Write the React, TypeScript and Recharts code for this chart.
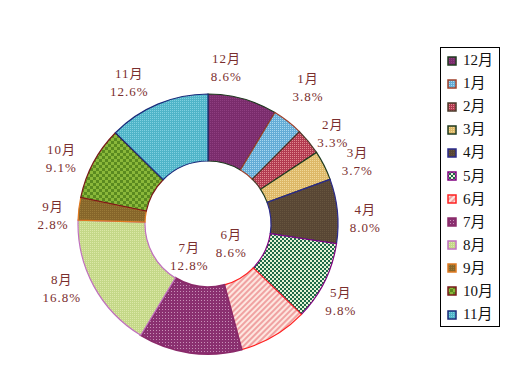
import { PieChart, Pie, Cell, Legend } from "recharts";

const months = ["12月", "1月", "2月", "3月", "4月", "5月", "6月", "7月", "8月", "9月", "10月", "11月"];
const shares = [8.6, 3.8, 3.3, 3.7, 8.0, 9.8, 8.6, 12.8, 16.8, 2.8, 9.1, 12.6];

const data = months.map((name, i) => ({ name, value: shares[i] }));

// fill pattern ids + border colour per slice
const fills = ["p12", "p1", "p2", "p3", "p4", "p5", "p6", "p7", "p8", "p9", "p10", "p11"];
const strokes = ["#1f3a1f", "#a0402a", "#4a3a2a", "#1f3a1f", "#2a2a8a", "#800080", "#ff2020", "#8a2a6a", "#c070c0", "#e07a20", "#7a1a1a", "#1a2a7a"];

// hand tweaks for data labels (the original was dragged around in Excel)
const labelNudge: [number, number][] = [
  [-23, -7], [5, -14], [5, 8], [11, 7], [3, 10], [-6, 9],
  [3, -15], [-13, -7], [-10, -10], [-1, 10], [-10, 8], [-19, 1],
];
const insideLabels = [6, 7];

const CX = 208;
const CY = 224;
const RAD = Math.PI / 180;
const labelFont = "'Liberation Serif', 'Noto Sans CJK SC', serif";

const renderLabel = (props: any) => {
  const { midAngle, index } = props;
  const r = insideLabels.includes(index) ? 40 : 155;
  const x = CX + r * Math.cos(-midAngle * RAD) + labelNudge[index][0];
  const y = CY + r * Math.sin(-midAngle * RAD) + labelNudge[index][1];
  return (
    <text x={x} y={y} textAnchor="middle" fill="#7a2e2e" fontSize={13} fontFamily={labelFont} letterSpacing={1}>
      <tspan x={x} dy={-4.5}>{months[index]}</tspan>
      <tspan x={x} dy={18}>{shares[index].toFixed(1)}%</tspan>
    </text>
  );
};

const LegendBox = () => (
  <div
    style={{
      border: "1.5px solid #000",
      width: 60,
      height: 280,
      boxSizing: "border-box",
      padding: "1px 0 0 6px",
      background: "#fff",
    }}
  >
    {months.map((m, i) => (
      <div key={m} style={{ display: "flex", alignItems: "center", height: 23.1 }}>
        <svg width={10} height={10} style={{ marginRight: 6 }}>
          <rect x={1} y={1} width={8} height={8} fill={`url(#${fills[i]})`} stroke={strokes[i]} strokeWidth={1.5} />
        </svg>
        <span style={{ fontFamily: labelFont, fontSize: 15, color: "#111", lineHeight: "15px" }}>{m}</span>
      </div>
    ))}
  </div>
);

export default function App() {
  return (
    <div style={{ position: "fixed", left: 0, top: 0, width: 530, height: 365, background: "#fff" }}>
      <PieChart width={530} height={365} margin={{ top: 0, right: 0, bottom: 0, left: 0 }}>
        <defs>
          <pattern id="p12" width="2" height="2" patternUnits="userSpaceOnUse">
            <rect width="2" height="2" fill="#7a2c6c" />
            <rect width="1" height="1" fill="#8e3e80" />
          </pattern>
          <pattern id="p1" width="2" height="2" patternUnits="userSpaceOnUse">
            <rect width="2" height="2" fill="#64acd6" />
            <rect width="1" height="1" fill="#a8d8f0" />
          </pattern>
          <pattern id="p2" width="2" height="2" patternUnits="userSpaceOnUse">
            <rect width="2" height="2" fill="#b23a50" />
            <rect width="1" height="1" fill="#e08a90" />
          </pattern>
          <pattern id="p3" width="2" height="2" patternUnits="userSpaceOnUse">
            <rect width="2" height="2" fill="#ddb868" />
            <rect width="1" height="1" fill="#f0d898" />
          </pattern>
          <pattern id="p4" width="2" height="2" patternUnits="userSpaceOnUse">
            <rect width="2" height="2" fill="#584634" />
            <rect width="1" height="1" fill="#66543e" />
          </pattern>
          <pattern id="p5" width="4" height="4" patternUnits="userSpaceOnUse">
            <rect width="4" height="4" fill="#e6f4d6" />
            <rect width="2" height="2" fill="#1e6a48" />
            <rect x="2" y="2" width="2" height="2" fill="#1e6a48" />
          </pattern>
          <pattern id="p6" width="4" height="4" patternUnits="userSpaceOnUse" patternTransform="rotate(45)">
            <rect width="4" height="4" fill="#fde6e0" />
            <rect width="2" height="4" fill="#f0a2a2" />
          </pattern>
          <pattern id="p7" width="3" height="3" patternUnits="userSpaceOnUse">
            <rect width="3" height="3" fill="#8a3070" />
            <rect width="1" height="1" fill="#c890b8" />
          </pattern>
          <pattern id="p8" width="2" height="2" patternUnits="userSpaceOnUse">
            <rect width="2" height="2" fill="#c4d888" />
            <rect width="1" height="1" fill="#dce8a8" />
          </pattern>
          <pattern id="p9" width="2" height="2" patternUnits="userSpaceOnUse">
            <rect width="2" height="2" fill="#86662a" />
            <rect width="1" height="1" fill="#9a7a38" />
          </pattern>
          <pattern id="p10" width="6" height="6" patternUnits="userSpaceOnUse">
            <rect width="6" height="6" fill="#8ab83a" />
            <rect width="3" height="3" fill="#5a8a20" />
            <rect x="3" y="3" width="3" height="3" fill="#5a8a20" />
          </pattern>
          <pattern id="p11" width="2" height="2" patternUnits="userSpaceOnUse">
            <rect width="2" height="2" fill="#4fb4c8" />
            <rect width="1" height="1" fill="#80d0e0" />
          </pattern>
        </defs>
        <Pie
          data={data}
          dataKey="value"
          nameKey="name"
          cx={CX}
          cy={CY}
          innerRadius={63}
          outerRadius={130}
          startAngle={90}
          endAngle={-270}
          isAnimationActive={false}
        >
          {data.map((d, i) => (
            <Cell key={d.name} fill={`url(#${fills[i]})`} stroke={strokes[i]} strokeWidth={i === 7 ? 2 : 1.2} />
          ))}
        </Pie>
        {/* same ring again, invisible, only so the labels sit on top of every slice */}
        <Pie
          data={data}
          dataKey="value"
          nameKey="name"
          cx={CX}
          cy={CY}
          innerRadius={63}
          outerRadius={130}
          startAngle={90}
          endAngle={-270}
          fill="none"
          stroke="none"
          label={renderLabel}
          labelLine={false}
          isAnimationActive={false}
        />
        <Legend
          layout="vertical"
          content={<LegendBox />}
          wrapperStyle={{ position: "absolute", left: 440, top: 47, width: 60, height: 280 }}
        />
      </PieChart>
    </div>
  );
}
